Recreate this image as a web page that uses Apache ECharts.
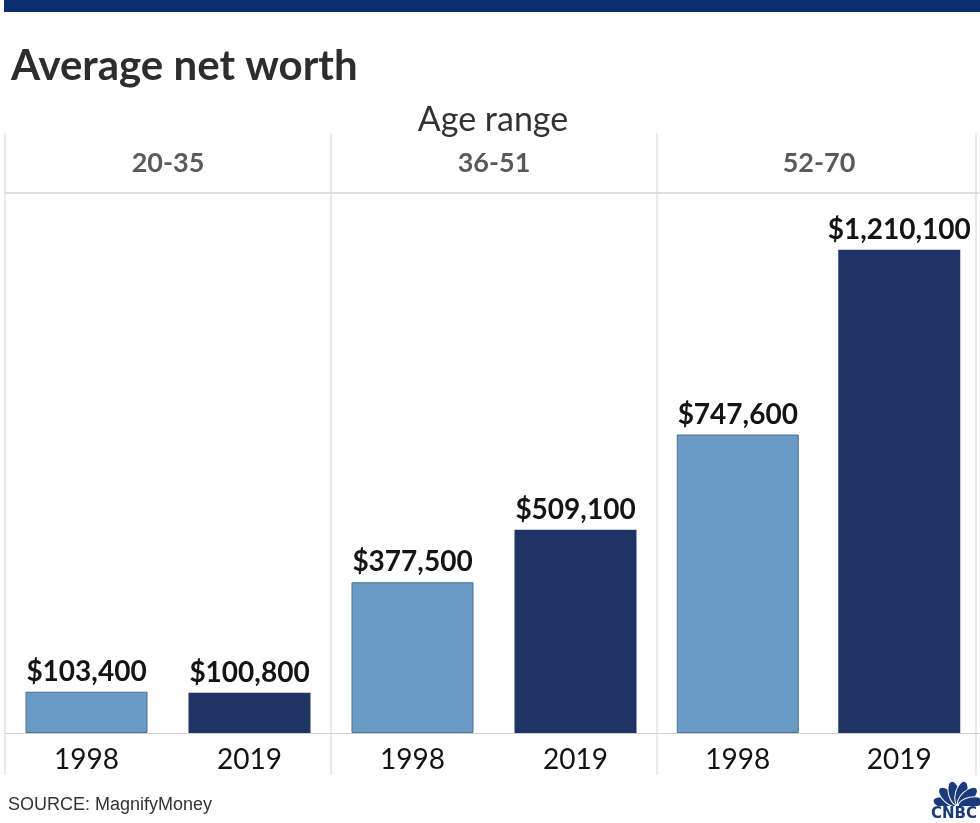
<!DOCTYPE html>
<html>
<head>
<meta charset="utf-8">
<script src="https://cdn.jsdelivr.net/npm/echarts@6/dist/echarts.min.js"></script>
<style>
  html, body { margin: 0; padding: 0; background: #fff; }
  #chart { width: 980px; height: 823px; }
</style>
</head>
<body>
<div id="chart"></div>
<script>
// Average net worth by age range, 1998 vs 2019
const ageRanges = ['20-35', '36-51', '52-70'];
const years = ['1998', '2019'];
const worth1998 = [103400, 377500, 747600];
const worth2019 = [100800, 509100, 1210100];
const sourceText = 'SOURCE: MagnifyMoney';

const colors = { y1998: '#6a9bc4', y2019: '#1f3464', border1998: '#4d6e8c' };
const panelLeft = [5, 331, 657];
const panelWidth = 326;
const gridTop = 194, gridBottom = 90;
const yMax = 1350000;

const fmt = v => '$' + v.toLocaleString('en-US');

const grids = [], xAxes = [], yAxes = [], series = [];
ageRanges.forEach((r, i) => {
  grids.push({ left: panelLeft[i], width: panelWidth, top: gridTop, bottom: gridBottom });
  xAxes.push({
    gridIndex: i, type: 'category', data: years,
    axisLine: { lineStyle: { color: '#cfcfcf', width: 1 } },
    axisTick: { show: false },
    axisLabel: { color: '#131313', fontSize: 28, fontFamily: 'Lato', margin: 13 }
  });
  yAxes.push({ gridIndex: i, type: 'value', min: 0, max: yMax, show: false, splitLine: { show: false } });
  series.push({
    type: 'bar', xAxisIndex: i, yAxisIndex: i, barWidth: 122,
    data: [
      { value: worth1998[i], itemStyle: { color: colors.y1998, borderColor: colors.border1998, borderWidth: 1 } },
      { value: worth2019[i], itemStyle: { color: colors.y2019 } }
    ],
    label: {
      show: true, position: 'top', distance: 6,
      formatter: p => fmt(p.value),
      color: '#141414', fontSize: 28, fontWeight: 'bold', fontFamily: 'Lato'
    },
    silent: true, animation: false
  });
});

// panel frame lines
const frame = [];
[5, 331, 657, 976].forEach(x => {
  frame.push({ type: 'line', shape: { x1: x, y1: 133, x2: x, y2: 775 }, style: { stroke: '#d4d4d4', lineWidth: 1 } });
});
frame.push({ type: 'line', shape: { x1: 5, y1: 193, x2: 980, y2: 193 }, style: { stroke: '#d4d4d4', lineWidth: 1.5 } });

// panel headers
const headers = ageRanges.map((r, i) => ({
  type: 'text', x: panelLeft[i] + panelWidth / 2 - (i === 2 ? 1 : 0), y: 163,
  style: { text: r, fill: '#5a5a5a', font: 'bold 27px Lato', textAlign: 'center', textVerticalAlign: 'middle' }
}));

// peacock mark, bottom right
const cx = 958, cy = 806;
const feathers = [];
for (let k = 0; k < 6; k++) {
  const ang = Math.PI * (0.07 + k * 0.172);
  const d = 13;
  const sx = cx - Math.cos(ang) * d, sy = cy - Math.sin(ang) * d;
  feathers.push({
    type: 'ellipse', shape: { cx: 0, cy: 0, rx: 6, ry: 12.5 },
    x: sx, y: sy, rotation: -(ang - Math.PI / 2),
    style: { fill: '#1b3a7a', stroke: '#fff', lineWidth: 1 }
  });
}

const option = {
  backgroundColor: '#fff',
  animation: false,
  title: {
    text: 'Average net worth', left: 6, top: 40,
    textStyle: { fontFamily: 'Lato', fontWeight: 'bold', fontSize: 42, color: '#2d2d2d' }
  },
  grid: grids, xAxis: xAxes, yAxis: yAxes, series: series,
  graphic: [
    { type: 'rect', shape: { x: 4, y: 0, width: 976, height: 12 }, style: { fill: '#0b2e6c' } },
    { type: 'text', x: 493, y: 120, style: { text: 'Age range', fill: '#333', font: '34px Lato', textAlign: 'center', textVerticalAlign: 'middle' } },
    ...frame,
    ...headers,
    { type: 'text', x: 8, y: 805, style: { text: sourceText, fill: '#333', font: '18px "Liberation Sans"', textVerticalAlign: 'middle' } },
    ...feathers,
    { type: 'rect', shape: { x: 930, y: 806, width: 50, height: 4 }, style: { fill: '#fff' } },
    { type: 'text', x: 931, y: 814, style: { text: 'CNBC', fill: '#1b3a7a', font: 'bold 15px "DejaVu Sans"', textVerticalAlign: 'middle' } }
  ]
};

echarts.init(document.getElementById('chart')).setOption(option);
</script>
</body>
</html>
